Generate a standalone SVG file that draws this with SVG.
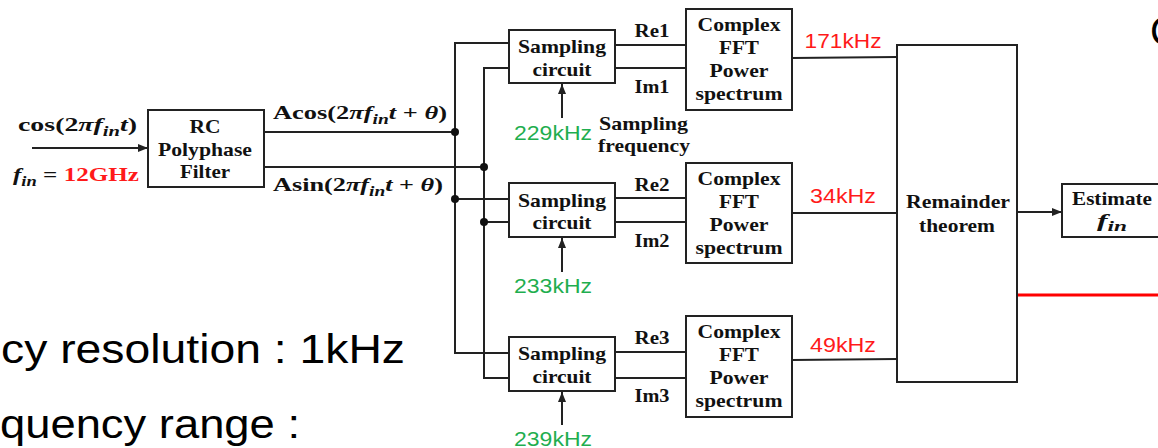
<svg xmlns="http://www.w3.org/2000/svg" width="1158" height="448" viewBox="0 0 1158 448">
<style>
.b{font-family:"Liberation Serif","Times New Roman",serif;font-weight:bold;font-size:19px;fill:#111}
.i{font-style:italic}
.c{text-anchor:middle}
.k{font-family:"Liberation Sans",Arial,sans-serif;font-size:21px}
.g{fill:#1fae4f}
.r{fill:#ff1a1a}
.box{fill:#fff;stroke:#222;stroke-width:2}
.ln{stroke:#222;stroke-width:2;fill:none}
.big{font-family:"Liberation Sans",Arial,sans-serif;font-size:40px;fill:#000}
</style>
<defs>
<marker id="ah" markerUnits="userSpaceOnUse" markerWidth="10" markerHeight="8" refX="10" refY="4" orient="auto">
<path d="M0,0 L10,4 L0,8 z" fill="#222"/>
</marker>
</defs>

<g id="connectors">
<line class="ln" x1="32" y1="148" x2="148" y2="148" marker-end="url(#ah)"/>
<polyline class="ln" points="264,132 455,132"/>
<polyline class="ln" points="264,167 484,167"/>
<polyline class="ln" points="509,43 455,43 455,353 509,353"/>
<polyline class="ln" points="509,68 484,68 484,378 509,378"/>
<line class="ln" x1="455" y1="199" x2="509" y2="199"/>
<line class="ln" x1="484" y1="222" x2="509" y2="222"/>
<circle cx="455" cy="132" r="4" fill="#111"/>
<circle cx="484" cy="167" r="4" fill="#111"/>
<circle cx="455" cy="199" r="4" fill="#111"/>
<circle cx="484" cy="222" r="4" fill="#111"/>
<line class="ln" x1="615" y1="45" x2="686" y2="45"/>
<line class="ln" x1="615" y1="68" x2="686" y2="68"/>
<line class="ln" x1="615" y1="198" x2="686" y2="198"/>
<line class="ln" x1="615" y1="222" x2="686" y2="222"/>
<line class="ln" x1="615" y1="352" x2="686" y2="352"/>
<line class="ln" x1="615" y1="378" x2="686" y2="378"/>
<line class="ln" x1="562" y1="118" x2="562" y2="84" marker-end="url(#ah)"/>
<line class="ln" x1="562" y1="272" x2="562" y2="238" marker-end="url(#ah)"/>
<line class="ln" x1="562" y1="425" x2="562" y2="392" marker-end="url(#ah)"/>
<line class="ln" x1="792" y1="58" x2="897" y2="57"/>
<line class="ln" x1="792" y1="213" x2="897" y2="213"/>
<line class="ln" x1="792" y1="360" x2="897" y2="359"/>
<line class="ln" x1="1017" y1="212" x2="1062" y2="212" marker-end="url(#ah)"/>
<line x1="1017" y1="295" x2="1158" y2="295" stroke="#ff0000" stroke-width="3"/>
</g>

<g id="input">
<text class="b" x="18" y="131" textLength="119" lengthAdjust="spacingAndGlyphs">cos(2<tspan class="i">π</tspan><tspan class="i">f</tspan><tspan class="i" font-size="14" dy="5">in</tspan><tspan class="i" dy="-5">t</tspan>)</text>
<text class="b" x="13" y="181" textLength="126" lengthAdjust="spacingAndGlyphs"><tspan class="i">f</tspan><tspan class="i" font-size="14" dy="5">in</tspan><tspan dy="-5"> = </tspan><tspan class="r">12GHz</tspan></text>
</g>

<g id="rc-filter">
<rect class="box" x="148" y="110" width="116" height="77"/>
<text class="b c" x="205" y="133" textLength="31" lengthAdjust="spacingAndGlyphs">RC</text>
<text class="b c" x="205" y="156" textLength="94" lengthAdjust="spacingAndGlyphs">Polyphase</text>
<text class="b c" x="205" y="178" textLength="50" lengthAdjust="spacingAndGlyphs">Filter</text>
</g>

<g id="signals">
<text class="b" x="273" y="119" textLength="174" lengthAdjust="spacingAndGlyphs">Acos(2<tspan class="i">π</tspan><tspan class="i">f</tspan><tspan class="i" font-size="14" dy="5">in</tspan><tspan class="i" dy="-5">t</tspan> + <tspan class="i">θ</tspan>)</text>
<text class="b" x="273" y="191" textLength="170" lengthAdjust="spacingAndGlyphs">Asin(2<tspan class="i">π</tspan><tspan class="i">f</tspan><tspan class="i" font-size="14" dy="5">in</tspan><tspan class="i" dy="-5">t</tspan> + <tspan class="i">θ</tspan>)</text>
</g>

<g id="sampling1">
<rect class="box" x="509" y="30" width="106" height="53"/>
<text class="b c" x="562" y="53" textLength="88" lengthAdjust="spacingAndGlyphs">Sampling</text>
<text class="b c" x="562" y="76" textLength="59" lengthAdjust="spacingAndGlyphs">circuit</text>
</g>
<g id="sampling2">
<rect class="box" x="509" y="183" width="106" height="54"/>
<text class="b c" x="562" y="207" textLength="88" lengthAdjust="spacingAndGlyphs">Sampling</text>
<text class="b c" x="562" y="229" textLength="59" lengthAdjust="spacingAndGlyphs">circuit</text>
</g>
<g id="sampling3">
<rect class="box" x="509" y="337" width="106" height="54"/>
<text class="b c" x="562" y="360" textLength="88" lengthAdjust="spacingAndGlyphs">Sampling</text>
<text class="b c" x="562" y="383" textLength="59" lengthAdjust="spacingAndGlyphs">circuit</text>
</g>

<g id="re-im-labels">
<text class="b c" x="652" y="37" textLength="35" lengthAdjust="spacingAndGlyphs">Re1</text>
<text class="b c" x="652" y="93" textLength="35" lengthAdjust="spacingAndGlyphs">Im1</text>
<text class="b c" x="652" y="191" textLength="35" lengthAdjust="spacingAndGlyphs">Re2</text>
<text class="b c" x="652" y="247" textLength="35" lengthAdjust="spacingAndGlyphs">Im2</text>
<text class="b c" x="652" y="344" textLength="35" lengthAdjust="spacingAndGlyphs">Re3</text>
<text class="b c" x="652" y="402" textLength="35" lengthAdjust="spacingAndGlyphs">Im3</text>
</g>

<g id="sampling-freq">
<text class="k g c" x="553" y="140" textLength="78" lengthAdjust="spacingAndGlyphs">229kHz</text>
<text class="b" x="599" y="130" textLength="89" lengthAdjust="spacingAndGlyphs">Sampling</text>
<text class="b" x="598" y="152" textLength="92" lengthAdjust="spacingAndGlyphs">frequency</text>
<text class="k g c" x="553" y="293" textLength="78" lengthAdjust="spacingAndGlyphs">233kHz</text>
<text class="k g c" x="553" y="446" textLength="78" lengthAdjust="spacingAndGlyphs">239kHz</text>
</g>

<g id="fft1">
<rect class="box" x="686" y="9" width="106" height="101"/>
<text class="b c" x="739" y="31" textLength="83" lengthAdjust="spacingAndGlyphs">Complex</text>
<text class="b c" x="739" y="54" textLength="40" lengthAdjust="spacingAndGlyphs">FFT</text>
<text class="b c" x="739" y="77" textLength="59" lengthAdjust="spacingAndGlyphs">Power</text>
<text class="b c" x="739" y="100" textLength="87" lengthAdjust="spacingAndGlyphs">spectrum</text>
</g>
<g id="fft2">
<rect class="box" x="686" y="163" width="106" height="100"/>
<text class="b c" x="739" y="185" textLength="83" lengthAdjust="spacingAndGlyphs">Complex</text>
<text class="b c" x="739" y="208" textLength="40" lengthAdjust="spacingAndGlyphs">FFT</text>
<text class="b c" x="739" y="231" textLength="59" lengthAdjust="spacingAndGlyphs">Power</text>
<text class="b c" x="739" y="254" textLength="87" lengthAdjust="spacingAndGlyphs">spectrum</text>
</g>
<g id="fft3">
<rect class="box" x="686" y="316" width="106" height="101"/>
<text class="b c" x="739" y="338" textLength="83" lengthAdjust="spacingAndGlyphs">Complex</text>
<text class="b c" x="739" y="361" textLength="40" lengthAdjust="spacingAndGlyphs">FFT</text>
<text class="b c" x="739" y="384" textLength="59" lengthAdjust="spacingAndGlyphs">Power</text>
<text class="b c" x="739" y="407" textLength="87" lengthAdjust="spacingAndGlyphs">spectrum</text>
</g>

<g id="remainder-freqs">
<text class="k r c" x="843" y="48" textLength="77" lengthAdjust="spacingAndGlyphs">171kHz</text>
<text class="k r c" x="843" y="203" textLength="66" lengthAdjust="spacingAndGlyphs">34kHz</text>
<text class="k r c" x="843" y="352" textLength="66" lengthAdjust="spacingAndGlyphs">49kHz</text>
</g>

<g id="remainder">
<rect class="box" x="897" y="45" width="120" height="337"/>
<text class="b c" x="958" y="208" textLength="104" lengthAdjust="spacingAndGlyphs">Remainder</text>
<text class="b c" x="957" y="232" textLength="76" lengthAdjust="spacingAndGlyphs">theorem</text>
</g>

<g id="estimate">
<rect class="box" x="1062" y="184" width="110" height="53"/>
<text class="b c" x="1112" y="205" textLength="80" lengthAdjust="spacingAndGlyphs">Estimate</text>
<text class="b c" x="1112" y="227" textLength="30" lengthAdjust="spacingAndGlyphs"><tspan class="i">f</tspan><tspan class="i" font-size="14" dy="4">in</tspan></text>
</g>

<g id="notes">
<text class="big" x="1" y="363" textLength="404" lengthAdjust="spacingAndGlyphs">cy resolution : 1kHz</text>
<text class="big" x="0" y="438" textLength="300" lengthAdjust="spacingAndGlyphs">quency range :</text>
<text class="big" x="1150" y="45">C</text>
</g>
</svg>
